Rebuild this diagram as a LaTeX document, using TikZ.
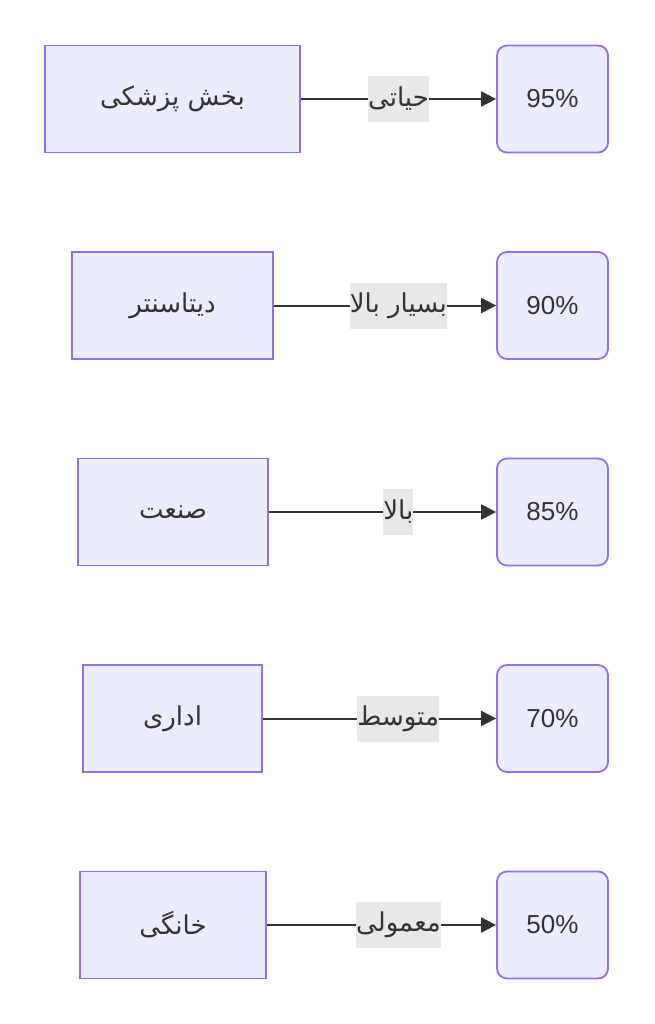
\documentclass[tikz,border=0pt]{standalone}
\usepackage{fontspec}
\setmainfont{Liberation Sans}
\newfontfamily\arabicfont[Script=Arabic]{DejaVu Sans}
\TeXXeTstate=1
\usetikzlibrary{arrows.meta,positioning}

\definecolor{nodefill}{HTML}{ECECFF}
\definecolor{nodeline}{HTML}{9370DB}
\definecolor{textgray}{HTML}{333333}
\definecolor{labelfill}{HTML}{E8E8E8}

\begin{document}
\begin{tikzpicture}[x=1pt,y=-1pt,
    every node/.style={font=\fontsize{26}{30}\selectfont,text=textgray},
    sector/.style={draw=nodeline,fill=nodefill,line width=1.8pt,
      minimum height=107pt,inner sep=0pt,minimum width=#1},
    level/.style={sector=111pt,rounded corners=10pt},
    link/.style={draw=textgray,line width=2pt,-{Triangle[length=15pt,width=15pt]}},
    tag/.style={fill=labelfill,inner xsep=0pt,inner ysep=0pt,minimum height=46pt}]

    \useasboundingbox (0,0) rectangle (654,1024);

    % row 1
    \node[sector=255pt] (medical) at (172.5,99) {\arabicfont\beginR بخش پزشکی\endR};
    \node[level] (p95) at (552.5,99) {95\%};
    \draw[link] (medical) -- node[tag,pos=0.5] {\arabicfont\beginR حیاتی\endR} (p95);

    % row 2
    \node[sector=201pt] (datacenter) at (172.5,305.5) {\arabicfont\beginR دیتاسنتر\endR};
    \node[level] (p90) at (552.5,305.5) {90\%};
    \draw[link] (datacenter) -- node[tag,pos=0.56] {\arabicfont\beginR بسیار بالا\endR} (p90);

    % row 3
    \node[sector=190pt] (industry) at (173,512) {\arabicfont\beginR صنعت\endR};
    \node[level] (p85) at (552.5,512) {85\%};
    \draw[link] (industry) -- node[tag,pos=0.57] {\arabicfont\beginR بالا\endR} (p85);

    % row 4
    \node[sector=179pt] (office) at (172.5,718.5) {\arabicfont\beginR اداری\endR};
    \node[level] (p70) at (552.5,718.5) {70\%};
    \draw[link] (office) -- node[tag,pos=0.58] {\arabicfont\beginR متوسط\endR} (p70);

    % row 5
    \node[sector=186pt] (home) at (173,925) {\arabicfont\beginR خانگی\endR};
    \node[level] (p50) at (552.5,925) {50\%};
    \draw[link] (home) -- node[tag,pos=0.574] {\arabicfont\beginR معمولی\endR} (p50);
  \end{tikzpicture}
\end{document}
